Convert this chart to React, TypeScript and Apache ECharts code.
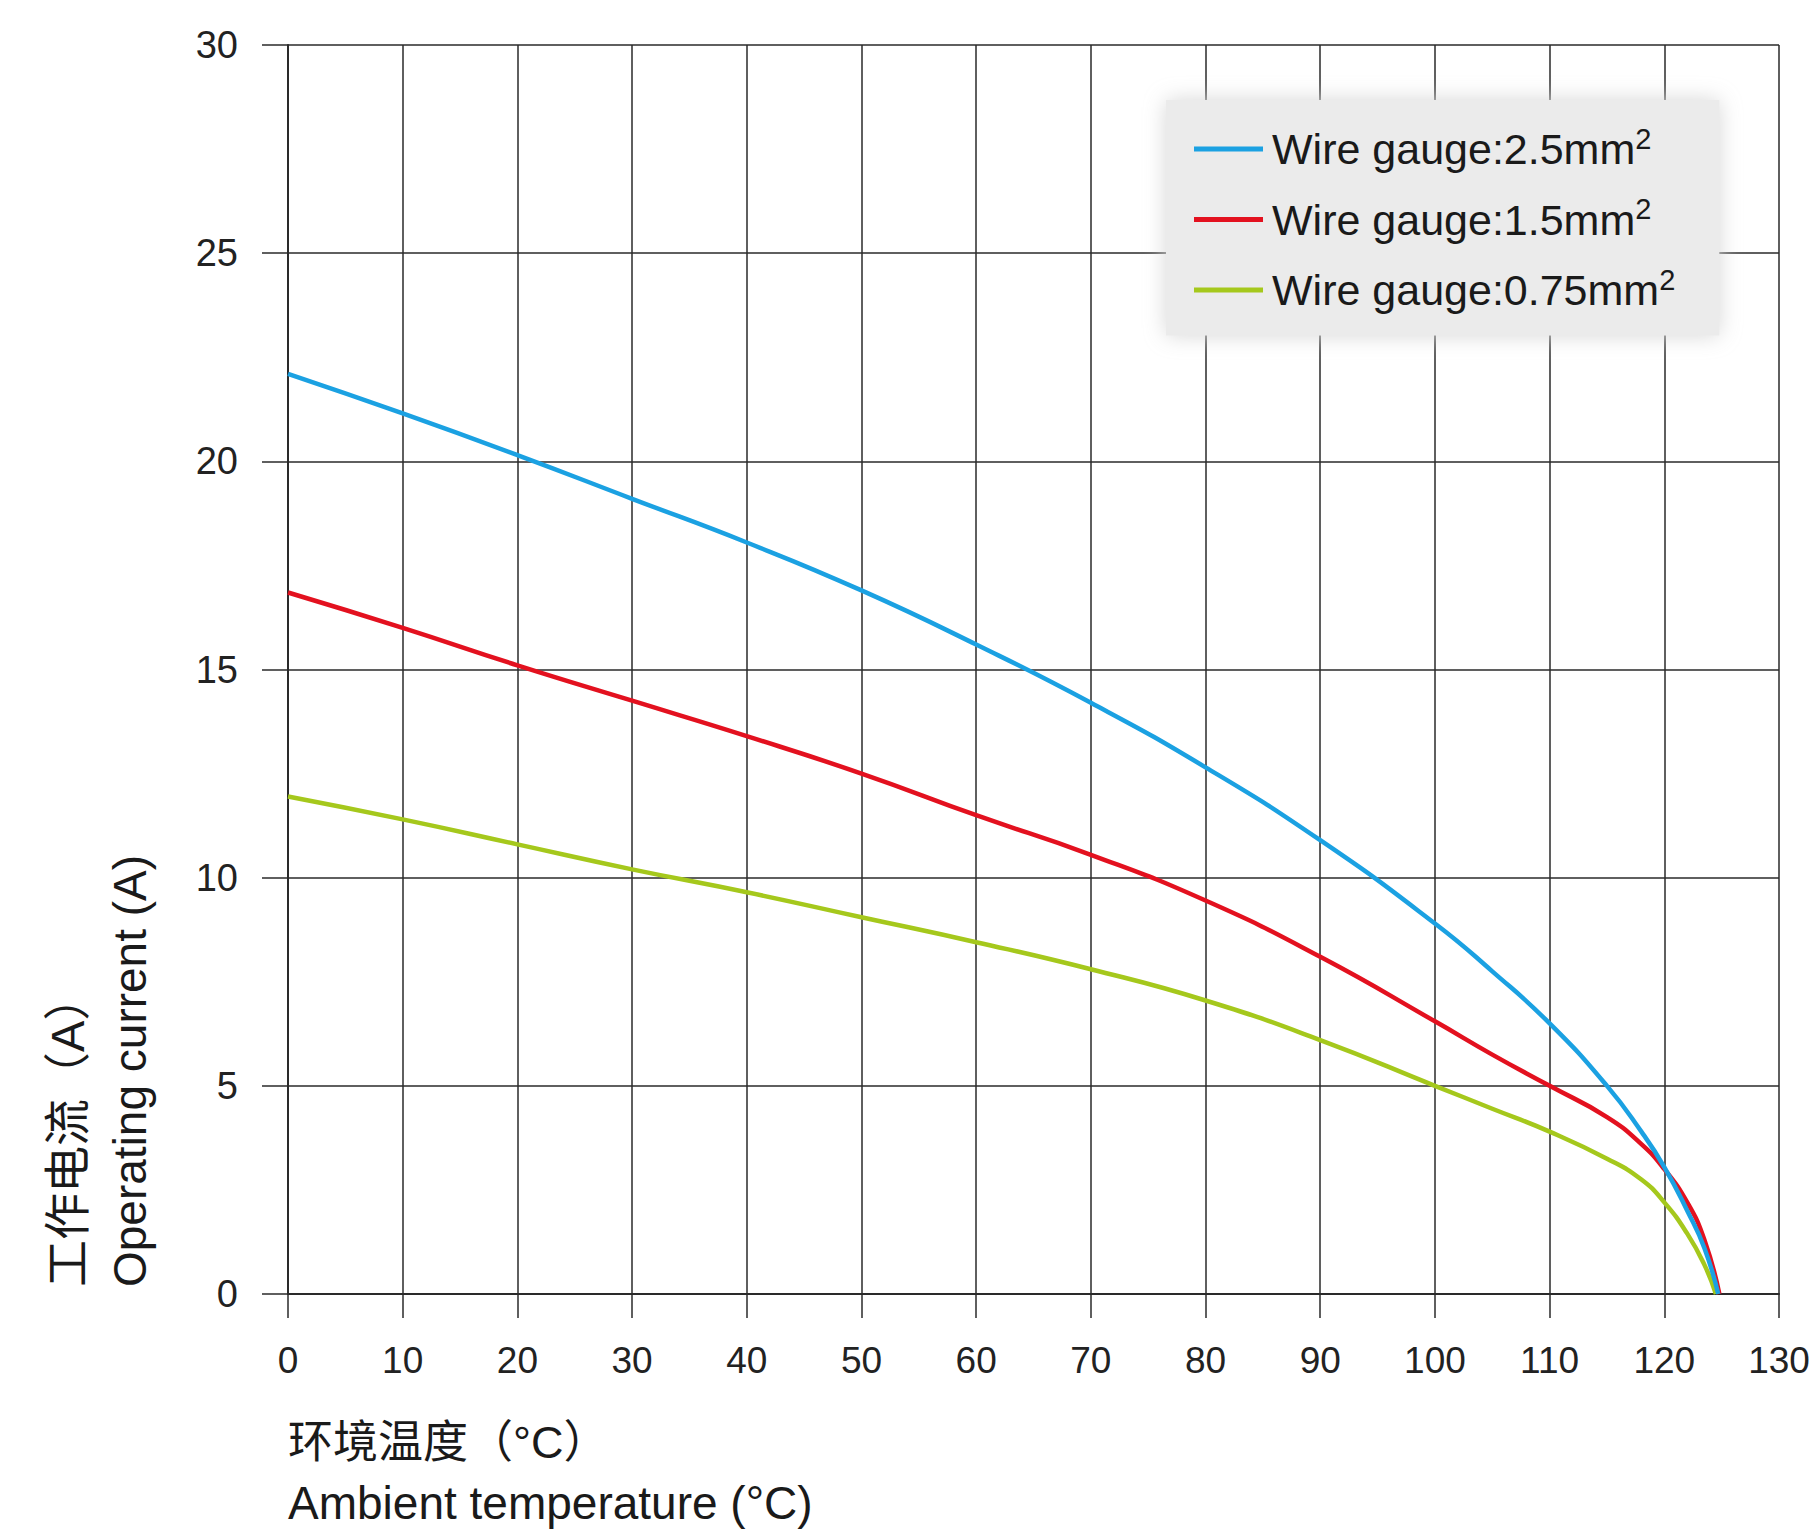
import React, { useEffect, useRef } from "react";
import * as echarts from "echarts";

const xTicks = [0, 10, 20, 30, 40, 50, 60, 70, 80, 90, 100, 110, 120, 130];
const yTicks = [0, 5, 10, 15, 20, 25, 30];

const seriesNames = ["Wire gauge:2.5mm", "Wire gauge:1.5mm", "Wire gauge:0.75mm"];
const seriesColors = ["#1ba1e2", "#e3111f", "#a5c81c"];

const tempBlue = [0, 10, 20, 30, 40, 50, 60, 70, 80, 90, 100, 105, 110, 115, 118, 120, 122, 123.5, 124.7];
const currentBlue = [22.1, 21.15, 20.15, 19.1, 18.05, 16.9, 15.6, 14.2, 12.65, 10.9, 8.9, 7.75, 6.5, 5.0, 3.9, 3.05, 2.0, 1.1, 0];

const tempRed = [0, 10, 20, 30, 40, 50, 60, 70, 80, 90, 100, 105, 110, 115, 118, 120, 122, 123.5, 124.8];
const currentRed = [16.85, 16.0, 15.1, 14.25, 13.4, 12.5, 11.5, 10.55, 9.45, 8.1, 6.55, 5.75, 5.0, 4.25, 3.6, 3.0, 2.2, 1.3, 0];

const tempGreen = [0, 10, 20, 30, 40, 50, 60, 70, 80, 90, 100, 105, 110, 115, 118, 120, 122, 123.5, 124.5];
const currentGreen = [11.95, 11.4, 10.8, 10.2, 9.65, 9.05, 8.45, 7.8, 7.05, 6.1, 5.0, 4.45, 3.9, 3.25, 2.75, 2.2, 1.45, 0.7, 0];

const xNameCn = "环境温度（°C）";
const xNameEn = "Ambient temperature (°C)";
const yNameCn = "工作电流（A）";
const yNameEn = "Operating current (A)";

const LATIN = "'Liberation Sans', Arial, sans-serif";
const CJK = "'Liberation Sans', 'Noto Sans CJK SC', sans-serif";

function pairs(xs: number[], ys: number[]) {
  return xs.map((x, i) => [x, ys[i]]);
}

export default function App() {
  const ref = useRef<HTMLDivElement>(null);
  useEffect(() => {
    if (!ref.current) return;
    const chart = echarts.init(ref.current, null, { renderer: "svg" });
    const datasets = [
      pairs(tempBlue, currentBlue),
      pairs(tempRed, currentRed),
      pairs(tempGreen, currentGreen),
    ];
    chart.setOption({
      animation: false,
      backgroundColor: "#ffffff",
      grid: { left: 288, top: 45, width: 1491, height: 1249, containLabel: false },
      xAxis: {
        type: "value",
        min: xTicks[0],
        max: xTicks[xTicks.length - 1],
        interval: 10,
        axisLine: { show: true, lineStyle: { color: "#2a2a2a", width: 2 } },
        axisTick: { show: true, length: 24, lineStyle: { color: "#2a2a2a", width: 1.5 } },
        splitLine: { show: true, lineStyle: { color: "#2a2a2a", width: 1.5 } },
        axisLabel: { fontFamily: LATIN, fontSize: 37, color: "#222", margin: 48 },
      },
      yAxis: {
        type: "value",
        min: yTicks[0],
        max: yTicks[yTicks.length - 1],
        interval: 5,
        axisLine: { show: true, lineStyle: { color: "#2a2a2a", width: 2 } },
        axisTick: { show: true, length: 26, lineStyle: { color: "#2a2a2a", width: 1.5 } },
        splitLine: { show: true, lineStyle: { color: "#2a2a2a", width: 1.5 } },
        axisLabel: { fontFamily: LATIN, fontSize: 38, color: "#222", margin: 50 },
      },
      legend: {
        left: 1166,
        top: 100,
        orient: "vertical",
        icon: "rect",
        itemWidth: 69,
        itemHeight: 5,
        itemGap: 24,
        padding: [24, 44, 24, 28],
        backgroundColor: "#ebebeb",
        shadowColor: "rgba(215,215,215,1)",
        shadowBlur: 22,
        data: seriesNames,
        formatter: (name: string) => `{t|${name}}{s|2}`,
        textStyle: {
          padding: [0, 0, 0, 4],
          rich: {
            t: { fontFamily: LATIN, fontSize: 43, color: "#1a1a1a", lineHeight: 50 },
            s: { fontFamily: LATIN, fontSize: 29, color: "#1a1a1a", lineHeight: 24, verticalAlign: "top" },
          },
        },
      },
      series: datasets.map((d, i) => ({
        name: seriesNames[i],
        type: "line",
        data: d,
        smooth: 0.5,
        showSymbol: false,
        color: seriesColors[i],
        lineStyle: { color: seriesColors[i], width: 4.5 },
        z: 3 + (2 - i),
      })),
      graphic: [
        {
          type: "text",
          x: 288,
          y: 1442,
          style: { text: xNameCn, font: `45px ${CJK}`, fill: "#1a1a1a", textAlign: "left", textVerticalAlign: "middle" },
        },
        {
          type: "text",
          x: 288,
          y: 1503,
          style: { text: xNameEn, font: `46px ${LATIN}`, fill: "#1a1a1a", textAlign: "left", textVerticalAlign: "middle" },
        },
        {
          type: "text",
          x: 67,
          y: 1287,
          rotation: Math.PI / 2,
          style: { text: yNameCn, font: `47px ${CJK}`, fill: "#1a1a1a", textAlign: "left", textVerticalAlign: "middle" },
        },
        {
          type: "text",
          x: 130,
          y: 1287,
          rotation: Math.PI / 2,
          style: { text: yNameEn, font: `46px ${LATIN}`, fill: "#1a1a1a", textAlign: "left", textVerticalAlign: "middle" },
        },
      ],
    });
    return () => chart.dispose();
  }, []);
  return <div ref={ref} style={{ position: "absolute", left: 0, top: 0, width: 1820, height: 1537 }} />;
}
